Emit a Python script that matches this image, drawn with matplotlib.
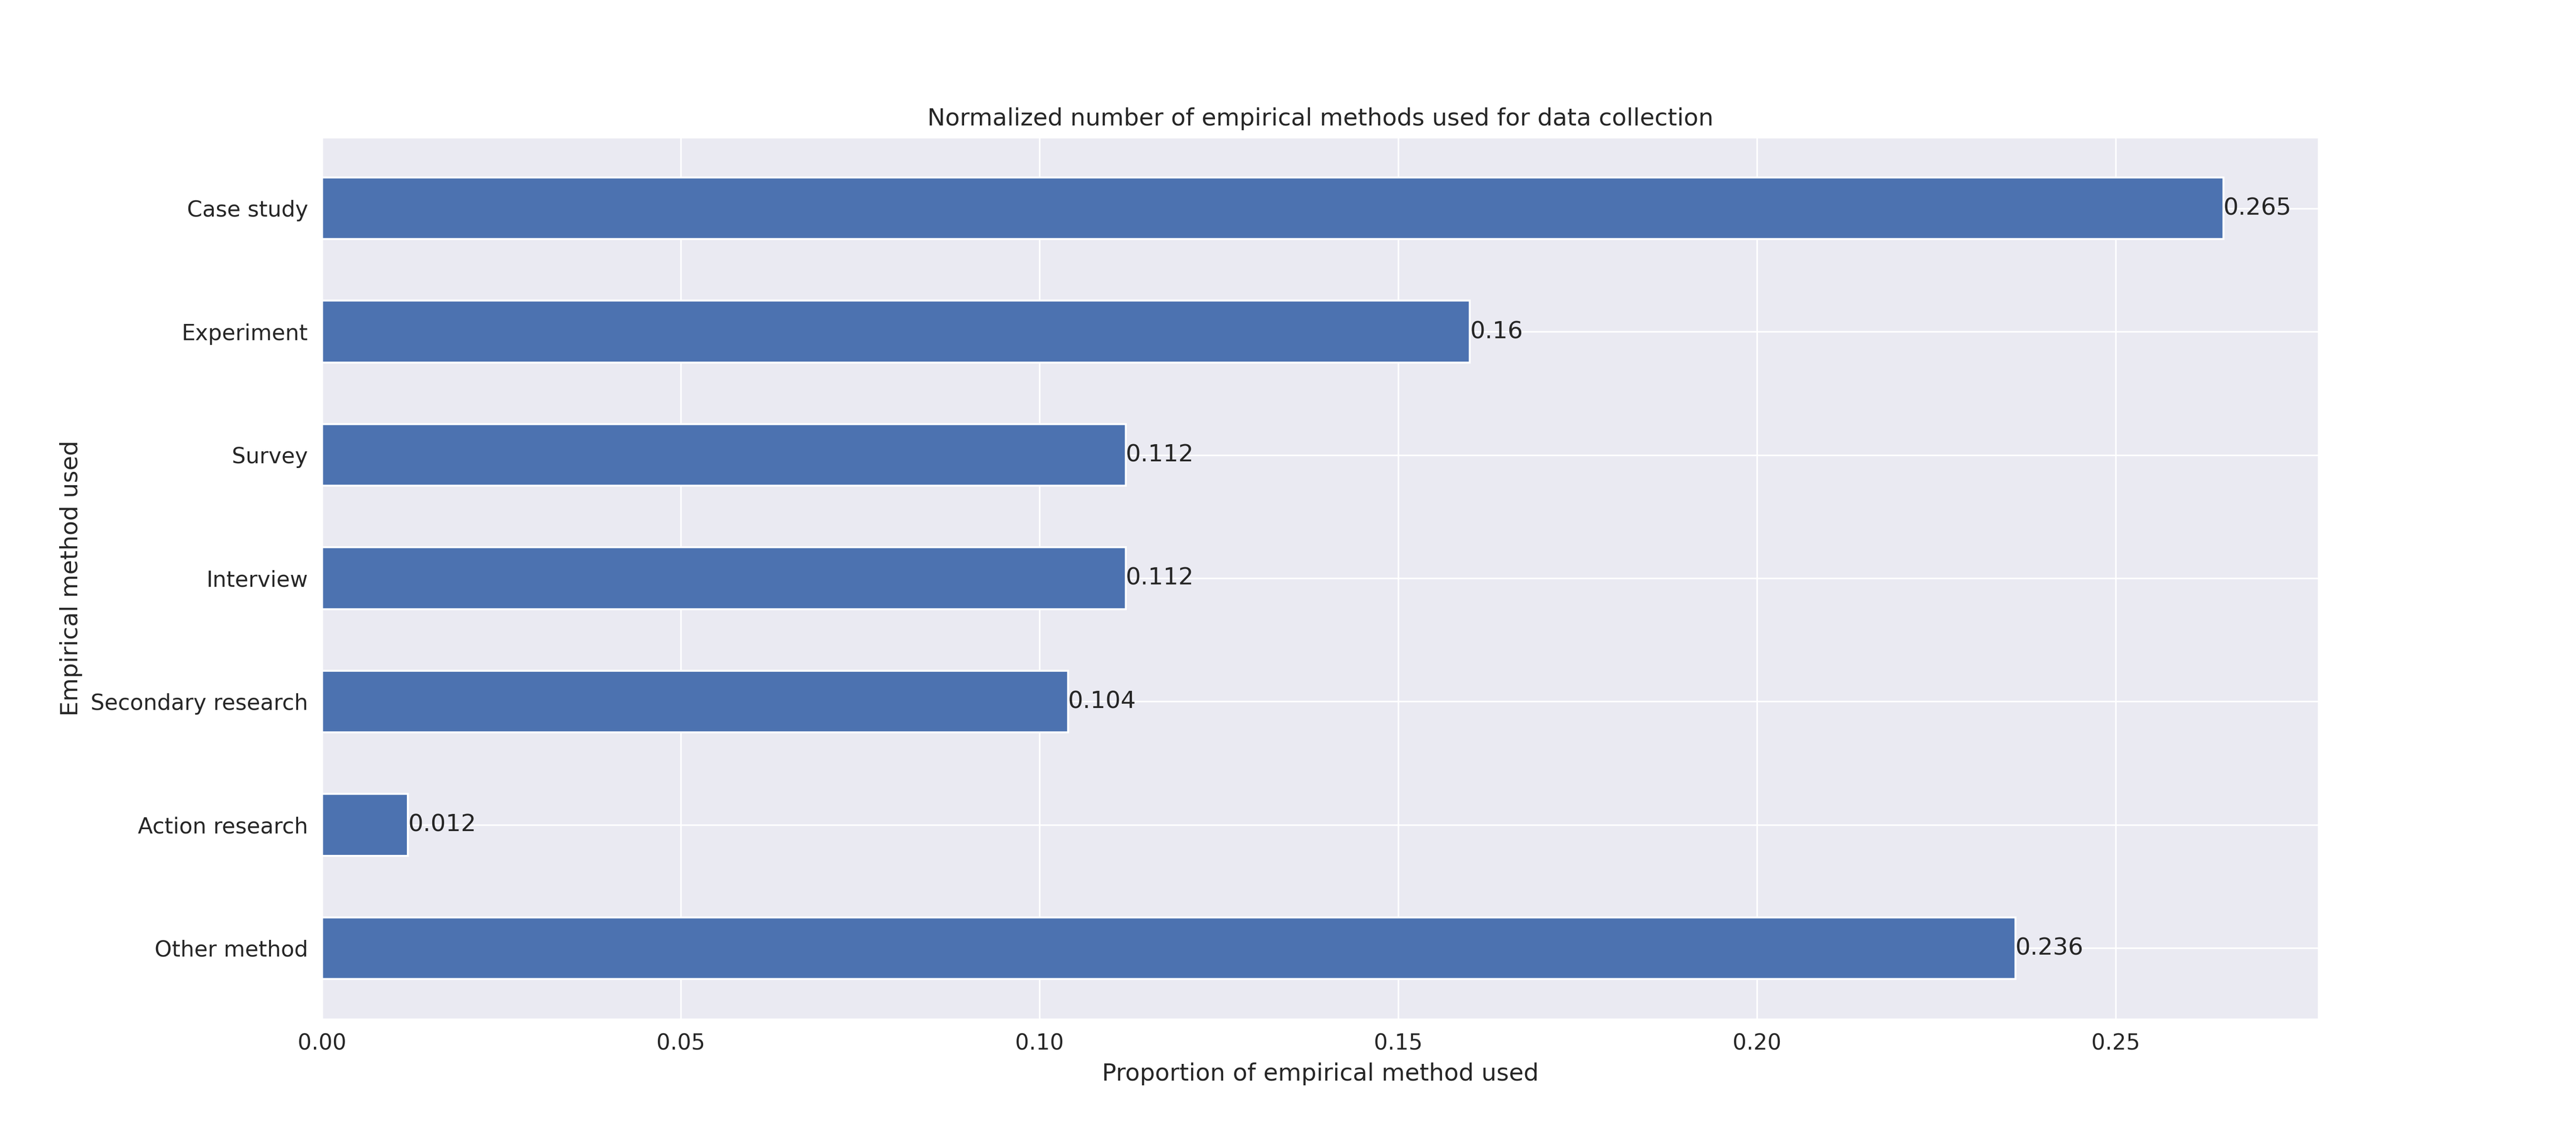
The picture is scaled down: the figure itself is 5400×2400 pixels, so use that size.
import matplotlib
matplotlib.use("Agg")
import matplotlib.pyplot as plt
import seaborn as sns

methods = ["Case study", "Experiment", "Survey", "Interview",
           "Secondary research", "Action research", "Other method"]
proportions = [0.265, 0.16, 0.112, 0.112, 0.104, 0.012, 0.236]

sns.set_style("darkgrid")
plt.rcParams['font.family'] = ['DejaVu Sans']

fig, ax = plt.subplots(figsize=(18, 8))
bars = ax.barh(methods, proportions, height=0.5, color="#4c72b0")
ax.invert_yaxis()
ax.bar_label(bars, labels=[f"{v:g}" for v in proportions], fontsize=12)
ax.set_xlim(0, max(proportions) * 1.05)
ax.set_title("Normalized number of empirical methods used for data collection", fontsize=12)
ax.set_xlabel("Proportion of empirical method used", fontsize=12)
ax.set_ylabel("Empirical method used", fontsize=12)
ax.tick_params(labelsize=11)
plt.savefig("out.png", dpi=300)
